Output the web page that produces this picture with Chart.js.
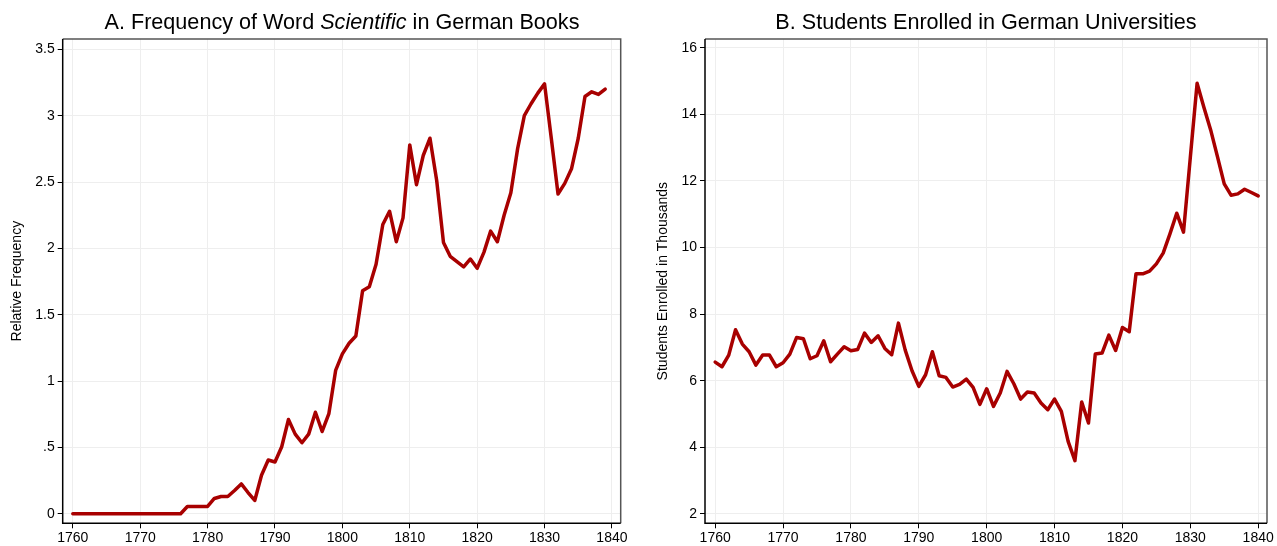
<!DOCTYPE html>
<html>
<head>
<meta charset="utf-8">
<script src="https://cdn.jsdelivr.net/npm/chart.js@4.4.1/dist/chart.umd.min.js"></script>
<style>
  body { margin: 0; background: #fff; width: 1277px; height: 546px; overflow: hidden; font-family: "Liberation Sans", Arial, sans-serif; }
  .panel { position: absolute; top: 0; height: 546px; }
  .panel canvas { position: absolute; left: 0; top: 0; }
  .title { position: absolute; top: 9px; font-size: 21.6px; line-height: 26px; color: #000; white-space: nowrap; transform: translateX(-50%); }
</style>
</head>
<body>
<div class="panel" style="left:0;width:640px">
  <canvas id="booksChart" width="640" height="546"></canvas>
</div>
<div class="panel" style="left:640px;width:637px">
  <canvas id="studentsChart" width="637" height="546"></canvas>
</div>
<div class="title" style="left:342px">A. Frequency of Word <i>Scientific</i> in German Books</div>
<div class="title" style="left:986px">B. Students Enrolled in German Universities</div>

<script>
const bookYears = [
  1760, 1761, 1762, 1763, 1764, 1765, 1766, 1767, 1768, 1769,
  1770, 1771, 1772, 1773, 1774, 1775, 1776, 1777, 1778, 1779,
  1780, 1781, 1782, 1783, 1784, 1785, 1786, 1787, 1788, 1789,
  1790, 1791, 1792, 1793, 1794, 1795, 1796, 1797, 1798, 1799,
  1800, 1801, 1802, 1803, 1804, 1805, 1806, 1807, 1808, 1809,
  1810, 1811, 1812, 1813, 1814, 1815, 1816, 1817, 1818, 1819,
  1820, 1821, 1822, 1823, 1824, 1825, 1826, 1827, 1828, 1829,
  1830, 1831, 1832, 1833, 1834, 1835, 1836, 1837, 1838, 1839,
];

const scientificFreq = [
  0, 0, 0, 0, 0, 0, 0, 0, 0, 0,
  0, 0, 0, 0, 0, 0, 0, 0.055, 0.055, 0.055,
  0.055, 0.115, 0.13, 0.13, 0.175, 0.225, 0.16, 0.10, 0.29, 0.405,
  0.39, 0.505, 0.71, 0.60, 0.535, 0.60, 0.765, 0.62, 0.755, 1.08,
  1.205, 1.285, 1.34, 1.68, 1.71, 1.88, 2.18, 2.28, 2.05, 2.23,
  2.78, 2.48, 2.70, 2.83, 2.51, 2.045, 1.94, 1.90, 1.86, 1.92,
  1.85, 1.97, 2.13, 2.05, 2.25, 2.42, 2.75, 3.0, 3.09, 3.17,
  3.24, 2.83, 2.41, 2.49, 2.60, 2.83, 3.145, 3.18, 3.16, 3.20,
];

const studentYears = [
  1760, 1761, 1762, 1763, 1764, 1765, 1766, 1767, 1768, 1769,
  1770, 1771, 1772, 1773, 1774, 1775, 1776, 1777, 1778, 1779,
  1780, 1781, 1782, 1783, 1784, 1785, 1786, 1787, 1788, 1789,
  1790, 1791, 1792, 1793, 1794, 1795, 1796, 1797, 1798, 1799,
  1800, 1801, 1802, 1803, 1804, 1805, 1806, 1807, 1808, 1809,
  1810, 1811, 1812, 1813, 1814, 1815, 1816, 1817, 1818, 1819,
  1820, 1821, 1822, 1823, 1824, 1825, 1826, 1827, 1828, 1829,
  1830, 1831, 1832, 1833, 1834, 1835, 1836, 1837, 1838, 1839,
  1840,
];

const studentsThousands = [
  6.56, 6.42, 6.77, 7.53, 7.10, 6.87, 6.47, 6.77, 6.77, 6.42,
  6.54, 6.80, 7.30, 7.26, 6.66, 6.75, 7.20, 6.57, 6.80, 7.02,
  6.90, 6.94, 7.43, 7.15, 7.35, 6.97, 6.78, 7.73, 6.92, 6.30,
  5.83, 6.18, 6.87, 6.15, 6.10, 5.81, 5.89, 6.05, 5.80, 5.29,
  5.76, 5.23, 5.63, 6.28, 5.91, 5.45, 5.66, 5.63, 5.33, 5.13,
  5.45, 5.08, 4.18, 3.60, 5.36, 4.73, 6.80, 6.83, 7.37, 6.91,
  7.60, 7.47, 9.21, 9.21, 9.29, 9.51, 9.83, 10.41, 11.03, 10.46,
  12.7, 14.93, 14.21, 13.53, 12.73, 11.91, 11.57, 11.61, 11.75, 11.65,
  11.55,
];

const yearTicks = [1760, 1770, 1780, 1790, 1800, 1810, 1820, 1830, 1840];
const freqTicks = [0, 0.5, 1, 1.5, 2, 2.5, 3, 3.5];
const studentTicks = [2, 4, 6, 8, 10, 12, 14, 16];

const FONT = "'Liberation Sans', Arial, sans-serif";
const LINE_COLOR = "#a80000";
const GRID_COLOR = "#eeeeee";

// box around the plot area (top/right edges are lighter, like the original)
const frameBox = {
  id: "frameBox",
  afterDraw(chart) {
    const { ctx, chartArea: a } = chart;
    ctx.save();
    ctx.strokeStyle = "#555";
    ctx.lineWidth = 1.5;
    ctx.beginPath();
    ctx.moveTo(a.left, a.top);
    ctx.lineTo(a.right, a.top);
    ctx.lineTo(a.right, a.bottom);
    ctx.stroke();
    ctx.strokeStyle = "#000";
    ctx.beginPath();
    ctx.moveTo(a.left, a.top);
    ctx.lineTo(a.left, a.bottom);
    ctx.lineTo(a.right, a.bottom);
    ctx.stroke();
    ctx.restore();
  },
};

function stataNumber(value) {
  const text = String(value);
  return text.startsWith("0.") ? text.slice(1) : text;
}

function makeChart(canvasId, years, values, opts) {
  const points = years.map((year, i) => ({ x: year, y: values[i] }));
  return new Chart(document.getElementById(canvasId), {
    type: "line",
    data: {
      datasets: [{
        data: points,
        borderColor: LINE_COLOR,
        borderWidth: 3.5,
        pointRadius: 0,
        tension: 0,
        borderJoinStyle: "round",
        borderCapStyle: "round",
      }],
    },
    options: {
      responsive: false,
      animation: false,
      layout: { padding: { top: 39, right: opts.padRight, left: 0, bottom: 0 } },
      plugins: { legend: { display: false }, tooltip: { enabled: false }, title: { display: false } },
      scales: {
        x: {
          type: "linear",
          min: 1758.5,
          max: 1841.3,
          afterBuildTicks: (axis) => { axis.ticks = yearTicks.map((v) => ({ value: v })); },
          afterFit: (axis) => { axis.height = 22.7; },
          grid: { color: GRID_COLOR, lineWidth: 1, tickColor: "#000", tickLength: 5, drawTicks: true },
          border: { display: false },
          ticks: { color: "#000", font: { family: FONT, size: 14 }, padding: 1, maxRotation: 0, callback: (v) => String(v) },
        },
        y: {
          type: "linear",
          min: opts.yMin,
          max: opts.yMax,
          afterBuildTicks: (axis) => { axis.ticks = opts.yTicks.map((v) => ({ value: v })); },
          afterFit: (axis) => { axis.width = opts.axisWidth; },
          grid: { color: GRID_COLOR, lineWidth: 1, tickColor: "#000", tickLength: 5, drawTicks: true },
          border: { display: false },
          title: { display: true, text: opts.yTitle, color: "#000", font: { family: FONT, size: 14 }, padding: { top: opts.titlePad, bottom: 0 } },
          ticks: { color: "#000", font: { family: FONT, size: 14 }, padding: 3, callback: (v) => stataNumber(v) },
        },
      },
    },
    plugins: [frameBox],
  });
}

makeChart("booksChart", bookYears, scientificFreq, {
  yMin: -0.072, yMax: 3.578, yTicks: freqTicks, axisWidth: 62.7, padRight: 19.3,
  yTitle: "Relative Frequency", titlePad: 9,
});

makeChart("studentsChart", studentYears, studentsThousands, {
  yMin: 1.72, yMax: 16.26, yTicks: studentTicks, axisWidth: 65, padRight: 10,
  yTitle: "Students Enrolled in Thousands", titlePad: 15,
});
</script>
</body>
</html>
